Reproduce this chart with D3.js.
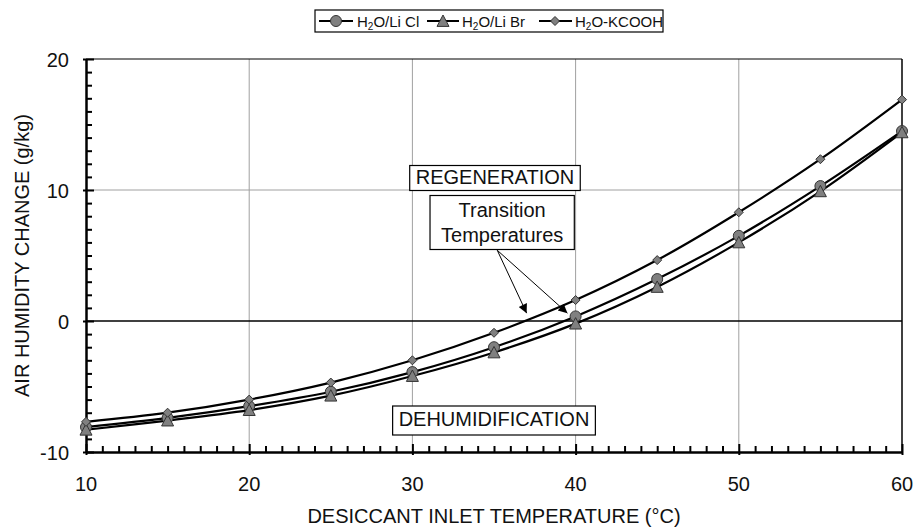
<!DOCTYPE html>
<html>
<head>
<meta charset="utf-8">
<script src="https://cdn.jsdelivr.net/npm/d3@7"></script>
<style>
  body{margin:0;background:#fff;}
  svg{font-family:"Liberation Sans",Arial,sans-serif;}
</style>
</head>
<body>
<svg id="chart" width="916" height="530"></svg>
<script>
// data
const temps=[10,15,20,25,30,35,40,45,50,55,60];
const liCl=[-8.1,-7.4,-6.5,-5.4,-3.9,-2.0,0.35,3.2,6.5,10.3,14.5];
const liBr=[-8.3,-7.6,-6.8,-5.7,-4.2,-2.4,-0.2,2.6,6.0,9.9,14.4];
const kcooh=[-7.7,-7.0,-6.0,-4.7,-3.0,-0.9,1.6,4.65,8.3,12.35,16.9];
const xTicks=[10,20,30,40,50,60];
const yTicks=[-10,0,10,20];

const series=[
  {name:"LiCl",values:liCl,marker:"circle",label:["H","2","O/Li Cl"]},
  {name:"LiBr",values:liBr,marker:"triangle",label:["H","2","O/Li Br"]},
  {name:"KCOOH",values:kcooh,marker:"diamond",label:["H","2","O-KCOOH"]}
];

const svg=d3.select("#chart");
const pLeft=86,pRight=902,pTop=59,pBottom=452;

const x=d3.scaleLinear().domain([10,60]).range([pLeft,pRight]);
const y=d3.scaleLinear().domain([-10,20]).range([pBottom,pTop]);

// grid
svg.append("g").selectAll("line")
  .data(xTicks.slice(1,-1)).join("line")
  .attr("x1",d=>x(d)).attr("x2",d=>x(d))
  .attr("y1",pTop).attr("y2",pBottom)
  .attr("stroke","#a0a0a0").attr("stroke-width",1);
svg.append("g").selectAll("line")
  .data(yTicks.filter(d=>d!==-10&&d!==0&&d!==20)).join("line")
  .attr("x1",pLeft).attr("x2",pRight)
  .attr("y1",d=>y(d)).attr("y2",d=>y(d))
  .attr("stroke","#a0a0a0").attr("stroke-width",1);

// frame
svg.append("line").attr("x1",pLeft).attr("x2",pRight).attr("y1",pTop).attr("y2",pTop)
  .attr("stroke","#000").attr("stroke-width",1.2);
svg.append("line").attr("x1",pRight).attr("x2",pRight).attr("y1",pTop).attr("y2",pBottom)
  .attr("stroke","#000").attr("stroke-width",1.5);
// zero line
svg.append("line").attr("x1",pLeft).attr("x2",pRight).attr("y1",y(0)).attr("y2",y(0))
  .attr("stroke","#000").attr("stroke-width",1.6);

// axes
const xAxis=d3.axisBottom(x).tickValues(d3.range(10,61,1)).tickSize(0).tickFormat("");
const gx=svg.append("g").attr("transform",`translate(0,${pBottom})`).call(xAxis);
gx.select(".domain").attr("stroke","#000").attr("stroke-width",2.5);
gx.selectAll(".tick line")
  .attr("y1",d=>xTicks.includes(d)?3:0)
  .attr("y2",d=>xTicks.includes(d)?-8:-6)
  .attr("stroke","#000").attr("stroke-width",2);

const yAxis=d3.axisLeft(y).tickValues(d3.range(-10,21,1)).tickSize(0).tickFormat("");
const gy=svg.append("g").attr("transform",`translate(${pLeft},0)`).call(yAxis);
gy.select(".domain").attr("stroke","#000").attr("stroke-width",2.5);
gy.selectAll(".tick line")
  .attr("x1",d=>yTicks.includes(d)?-3:0)
  .attr("x2",d=>yTicks.includes(d)?8:6)
  .attr("stroke","#000").attr("stroke-width",2);

// tick labels
svg.append("g").selectAll("text").data(xTicks).join("text")
  .attr("x",d=>x(d)).attr("y",491)
  .attr("text-anchor","middle").attr("font-size",20).attr("fill","#111")
  .text(d=>d);
svg.append("g").selectAll("text").data(yTicks).join("text")
  .attr("x",69).attr("y",d=>y(d)+8)
  .attr("text-anchor","end").attr("font-size",20).attr("fill","#111")
  .text(d=>d);

// axis titles
svg.append("text").attr("x",(pLeft+pRight)/2).attr("y",523)
  .attr("text-anchor","middle").attr("font-size",20).attr("fill","#111")
  .text("DESICCANT INLET TEMPERATURE (°C)");
svg.append("text")
  .attr("transform",`translate(29,${(pTop+pBottom)/2}) rotate(-90)`)
  .attr("text-anchor","middle").attr("font-size",20).attr("fill","#111")
  .text("AIR HUMIDITY CHANGE (g/kg)");

// markers
function drawMarker(g,type,cx,cy){
  if(type==="circle"){
    g.append("circle").attr("cx",cx).attr("cy",cy).attr("r",5.5)
      .attr("fill","#808080").attr("stroke","#333").attr("stroke-width",1);
  } else if(type==="triangle"){
    const s=6;
    g.append("path").attr("d",`M${cx},${cy-s}L${cx+s},${cy+s*0.9}L${cx-s},${cy+s*0.9}Z`)
      .attr("fill","#808080").attr("stroke","#333").attr("stroke-width",1);
  } else {
    const s=4.5;
    g.append("path").attr("d",`M${cx},${cy-s}L${cx+s},${cy}L${cx},${cy+s}L${cx-s},${cy}Z`)
      .attr("fill","#808080").attr("stroke","#333").attr("stroke-width",1);
  }
}

const line=d3.line().x(d=>x(d[0])).y(d=>y(d[1])).curve(d3.curveCatmullRom.alpha(0.5));
series.forEach(s=>{
  const pts=temps.map((t,i)=>[t,s.values[i]]);
  svg.append("path").datum(pts).attr("d",line)
    .attr("fill","none").attr("stroke","#000").attr("stroke-width",2.2);
});
series.forEach(s=>{
  const g=svg.append("g");
  temps.forEach((t,i)=>drawMarker(g,s.marker,x(t),y(s.values[i])));
});

// annotation boxes
function textBox(lines,cx,cy,padX,padY,lineH){
  const g=svg.append("g");
  const rect=g.append("rect").attr("fill","#fff").attr("stroke","#000").attr("stroke-width",1.2);
  const t=g.append("text").attr("text-anchor","middle").attr("font-size",20).attr("fill","#111");
  const h0=lines.length*lineH;
  lines.forEach((l,i)=>{
    t.append("tspan").attr("x",cx).attr("y",cy-h0/2+lineH*(i+1)-6).text(l);
  });
  const bb=t.node().getBBox();
  rect.attr("x",bb.x-padX).attr("y",cy-h0/2-padY)
    .attr("width",bb.width+2*padX).attr("height",h0+2*padY);
}
textBox(["REGENERATION"],x(35.06),178,6,1,23);
textBox(["DEHUMIDIFICATION"],x(35.0),420.5,6,3,23);

// arrows from transition box
const arrowFrom=[35.2,5.4];
const arrowTips=[[37.0,0.6],[39.5,0.6]];
svg.append("defs").append("marker")
  .attr("id","ah").attr("viewBox","0 0 10 10").attr("refX",10).attr("refY",5)
  .attr("markerWidth",12).attr("markerHeight",9).attr("markerUnits","userSpaceOnUse")
  .attr("orient","auto")
  .append("path").attr("d","M0,0L10,5L0,10Z").attr("fill","#000");
arrowTips.forEach(tp=>{
  svg.append("line")
    .attr("x1",x(arrowFrom[0])).attr("y1",y(arrowFrom[1]))
    .attr("x2",x(tp[0])).attr("y2",y(tp[1]))
    .attr("stroke","#000").attr("stroke-width",1)
    .attr("marker-end","url(#ah)");
});
textBox(["Transition","Temperatures"],x(35.5),222.5,11,2,25);

// legend
const leg=svg.append("g");
leg.append("rect").attr("x",315).attr("y",10).attr("width",348).attr("height",22)
  .attr("fill","#fff").attr("stroke","#000").attr("stroke-width",1.2);
const legX=[[319,353,336,357],[427,459,443,462],[539,572,555,575]];
series.forEach((s,i)=>{
  const [a,b,m,tx]=legX[i];
  leg.append("line").attr("x1",a).attr("x2",b).attr("y1",21).attr("y2",21)
    .attr("stroke","#000").attr("stroke-width",2);
  drawMarker(leg,s.marker,m,21);
  const t=leg.append("text").attr("x",tx).attr("y",26.5).attr("font-size",15).attr("fill","#111");
  t.append("tspan").text(s.label[0]);
  t.append("tspan").attr("font-size",10).attr("dy",3).text(s.label[1]);
  t.append("tspan").attr("dy",-3).text(s.label[2]);
});
</script>
</body>
</html>
